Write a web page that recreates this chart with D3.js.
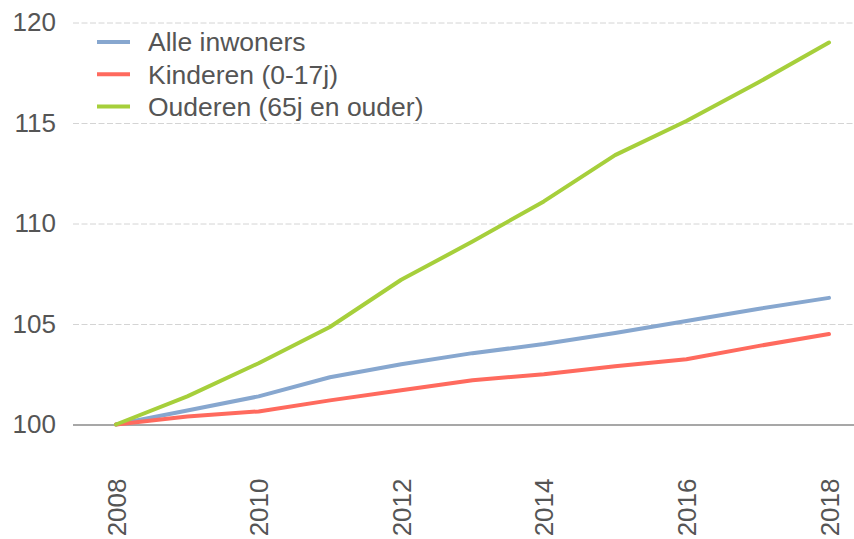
<!DOCTYPE html>
<html>
<head>
<meta charset="utf-8">
<script src="https://cdn.jsdelivr.net/npm/d3@7"></script>
<style>
  body { margin: 0; background: #fff; }
  svg { display: block; font-family: "Liberation Sans", Arial, sans-serif; }
</style>
</head>
<body>
<svg id="chart"></svg>
<script>
// index values, 2008 = 100
const years = [2008, 2009, 2010, 2011, 2012, 2013, 2014, 2015, 2016, 2017, 2018];
const alleInwoners = [100, 100.7, 101.4, 102.35, 103.0, 103.55, 104.0, 104.55, 105.15, 105.75, 106.3];
const kinderen = [100, 100.4, 100.65, 101.2, 101.7, 102.2, 102.5, 102.9, 103.25, 103.9, 104.5];
const ouderen = [100, 101.4, 103.05, 104.85, 107.2, 109.1, 111.1, 113.4, 115.1, 117.0, 119.0];
const seriesNames = ["Alle inwoners", "Kinderen (0-17j)", "Ouderen (65j en ouder)"];
const seriesColors = ["#87a7cf", "#ff6a5e", "#a6cf3b"];
const yTicks = [100, 105, 110, 115, 120];
const xTicks = [2008, 2010, 2012, 2014, 2016, 2018];

const width = 854, height = 539;
const gridLeft = 73;

const series = [alleInwoners, kinderen, ouderen].map((values, i) => ({
  name: seriesNames[i],
  color: seriesColors[i],
  values: values.map((v, j) => ({year: years[j], value: v}))
}));

const x = d3.scaleLinear().domain([2008, 2018]).range([116, 829]);
const y = d3.scaleLinear().domain([100, 120]).range([424.5, 22.5]);

const svg = d3.select("#chart")
    .attr("width", width)
    .attr("height", height)
    .attr("viewBox", [0, 0, width, height]);

// y axis + grid
svg.append("g")
    .call(d3.axisLeft(y).tickValues(yTicks).tickSize(0).tickPadding(0))
    .call(g => g.select(".domain").remove())
    .call(g => g.selectAll(".tick text")
        .attr("x", 56)
        .attr("font-size", 26)
        .attr("fill", "#555")
        .attr("font-family", null))
    .call(g => g.selectAll(".tick line")
        .attr("x1", gridLeft)
        .attr("x2", width)
        .attr("stroke", d => d === 100 ? "#8a8a8a" : "#d4d4d4")
        .attr("stroke-width", d => d === 100 ? 1.6 : 1)
        .attr("stroke-dasharray", d => d === 100 ? null : "6,2.5"));

// x axis
svg.append("g")
    .attr("transform", `translate(0,${y(100)})`)
    .call(d3.axisBottom(x).tickValues(xTicks).tickFormat(d3.format("d")).tickSize(0))
    .call(g => g.select(".domain").remove())
    .call(g => g.selectAll(".tick text")
        .attr("transform", "rotate(-90)")
        .attr("text-anchor", "end")
        .attr("x", -54)
        .attr("y", 0)
        .attr("dy", "0.35em")
        .attr("font-size", 26)
        .attr("fill", "#555")
        .attr("font-family", null));

const line = d3.line()
    .x(d => x(d.year))
    .y(d => y(d.value));

svg.append("g")
    .attr("fill", "none")
    .attr("stroke-width", 4)
    .attr("stroke-linejoin", "round")
    .attr("stroke-linecap", "round")
  .selectAll("path")
  .data(series)
  .join("path")
    .attr("stroke", d => d.color)
    .attr("d", d => line(d.values));

// legend
const legend = svg.append("g")
  .selectAll("g")
  .data(series)
  .join("g")
    .attr("transform", (d, i) => `translate(97,${42 + i * 32.3})`);

legend.append("line")
    .attr("x1", 0)
    .attr("x2", 33)
    .attr("stroke", d => d.color)
    .attr("stroke-width", 4);

legend.append("text")
    .attr("x", 51)
    .attr("dy", "0.35em")
    .attr("font-size", 26.5)
    .attr("fill", "#555")
    .text(d => d.name);
</script>
</body>
</html>
